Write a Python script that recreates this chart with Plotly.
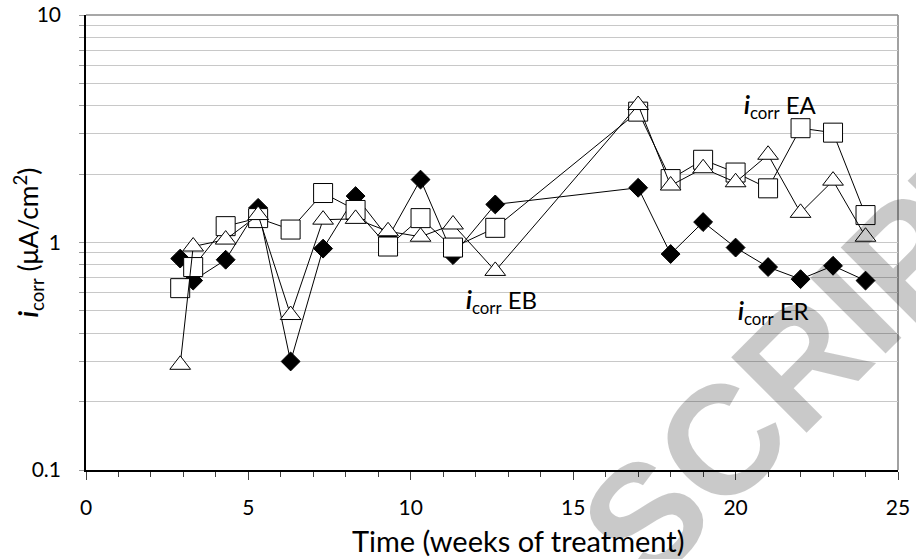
import math
import plotly.graph_objects as go

# ---- data ----
weeks = [2.9, 3.3, 4.3, 5.3, 6.3, 7.3, 8.3, 9.3, 10.3, 11.3, 12.6,
         17.0, 18.0, 19.0, 20.0, 21.0, 22.0, 23.0, 24.0]
icorr_ER = [0.85, 0.68, 0.84, 1.42, 0.30, 0.94, 1.60, 1.05, 1.89, 0.88, 1.47,
            1.74, 0.89, 1.23, 0.95, 0.78, 0.69, 0.79, 0.68]
icorr_EA = [0.63, 0.78, 1.18, 1.28, 1.14, 1.65, 1.39, 0.96, 1.28, 0.95, 1.16,
            3.76, 1.90, 2.31, 2.03, 1.73, 3.18, 3.04, 1.32]
icorr_EB = [0.29, 0.96, 1.03, 1.32, 0.48, 1.26, 1.27, 1.12, 1.06, 1.20, 0.75,
            4.02, 1.78, 2.12, 1.84, 2.43, 1.35, 1.87, 1.06]

y_tickvals = [0.1, 0.2, 0.3, 0.4, 0.5, 0.6, 0.7, 0.8, 0.9,
              1, 2, 3, 4, 5, 6, 7, 8, 9, 10]
y_ticktext = ["0.1", "", "", "", "", "", "", "", "",
              "1", "", "", "", "", "", "", "", "", "10"]
x_tickvals = [0, 5, 10, 15, 20, 25]
x_ticktext = ["0", "5", "10", "15", "20", "25"]

series_labels = ["<b><i>i</i></b><sub>corr</sub> EA",
                 "<b><i>i</i></b><sub>corr</sub> EB",
                 "<b><i>i</i></b><sub>corr</sub> ER"]
label_x = [20.2, 11.65, 20.0]
label_y = [3.95, 0.55, 0.49]

FONT = "Lato"

W, H = 916, 559
ML, MT, MR, MB = 86.3, 15, 18, 88.5
PW = W - ML - MR
PH = H - MT - MB


def px_to_paper(px, py):
    return (px - ML) / PW, (H - MB - py) / PH


fig = go.Figure()
fig.add_trace(go.Scatter(
    x=weeks, y=icorr_ER, mode="lines+markers", name="ER",
    line=dict(color="black", width=1),
    marker=dict(symbol="diamond", size=14.5, color="black",
                line=dict(color="black", width=1))))
fig.add_trace(go.Scatter(
    x=weeks, y=icorr_EA, mode="lines+markers", name="EA",
    line=dict(color="black", width=1),
    marker=dict(symbol="square", size=19, color="white",
                line=dict(color="black", width=1))))
fig.add_trace(go.Scatter(
    x=weeks, y=icorr_EB, mode="lines+markers", name="EB",
    line=dict(color="black", width=1),
    marker=dict(symbol="triangle-up", size=18, color="white",
                line=dict(color="black", width=1))))

annotations = []
for t, lx, ly in zip(series_labels, label_x, label_y):
    annotations.append(dict(x=lx, y=math.log10(ly), xref="x", yref="y",
                            text=t, showarrow=False, xanchor="left",
                            yanchor="middle",
                            font=dict(family=FONT, size=24, color="black")))
# axis titles
tx, ty = px_to_paper(518, 541)
annotations.append(dict(x=tx, y=ty, xref="paper", yref="paper",
                        text="Time (weeks of treatment)", showarrow=False,
                        xanchor="center", yanchor="middle",
                        font=dict(family=FONT, size=29, color="black")))
tx, ty = px_to_paper(28.5, 242.5)
annotations.append(dict(x=tx, y=ty, xref="paper", yref="paper",
                        text="<b><i>i</i></b><sub>corr</sub> (μA/cm<sup>2</sup>)",
                        textangle=-90, showarrow=False,
                        xanchor="center", yanchor="middle",
                        font=dict(family=FONT, size=26.5, color="black")))
# watermark
tx, ty = px_to_paper(810, 354)
annotations.append(dict(x=tx, y=ty, xref="paper", yref="paper",
                        text="<b>SCRIPT</b>",
                        textangle=-45, showarrow=False,
                        xanchor="center", yanchor="middle",
                        font=dict(family="Liberation Sans", size=155,
                                  color="rgba(0,0,0,0.21)")))

shapes = [
    dict(type="line", xref="paper", yref="paper", x0=0, x1=1, y0=0.5, y1=0.5,
         line=dict(color="#404040", width=1), layer="between"),
    dict(type="line", xref="paper", yref="paper", x0=0, x1=1, y0=1, y1=1,
         line=dict(color="#8a8a8a", width=1.6), layer="between"),
    dict(type="line", xref="paper", yref="paper", x0=1, x1=1, y0=0, y1=1,
         line=dict(color="#8a8a8a", width=1.6), layer="between"),
]

fig.update_layout(
    width=W, height=H,
    margin=dict(l=ML, r=MR, t=MT, b=MB, autoexpand=False),
    paper_bgcolor="white", plot_bgcolor="white",
    showlegend=False,
    font=dict(family=FONT, size=21, color="black"),
    annotations=annotations,
    shapes=shapes,
    xaxis=dict(range=[0, 25], tickvals=x_tickvals, ticktext=x_ticktext,
               ticks="outside", ticklen=8, tickcolor="#404040", tickwidth=1,
               showgrid=False, zeroline=False, automargin=False,
               showline=True, linecolor="black", linewidth=1.6,
               tickfont=dict(family=FONT, size=21, color="black"),
               ticklabelstandoff=10,
               minor=dict(dtick=1, ticks="outside", ticklen=5,
                          tickcolor="#404040", tickwidth=1, showgrid=False)),
    yaxis=dict(type="log", range=[-1, 1], tickvals=y_tickvals,
               ticktext=y_ticktext, ticks="outside", ticklen=5,
               tickcolor="#9a9a9a", tickwidth=1, automargin=False,
               ticklabeloverflow="allow",
               showgrid=True, gridcolor="#c8c8c8", gridwidth=1,
               zeroline=False, showline=True, linecolor="black", linewidth=1.6,
               tickfont=dict(family=FONT, size=21, color="black"),
               ticklabelstandoff=14),
)

fig.write_html("out.html",
               config={"displayModeBar": False},
               post_script="document.body.style.margin='0px';"
                           "document.body.style.padding='0px';")
